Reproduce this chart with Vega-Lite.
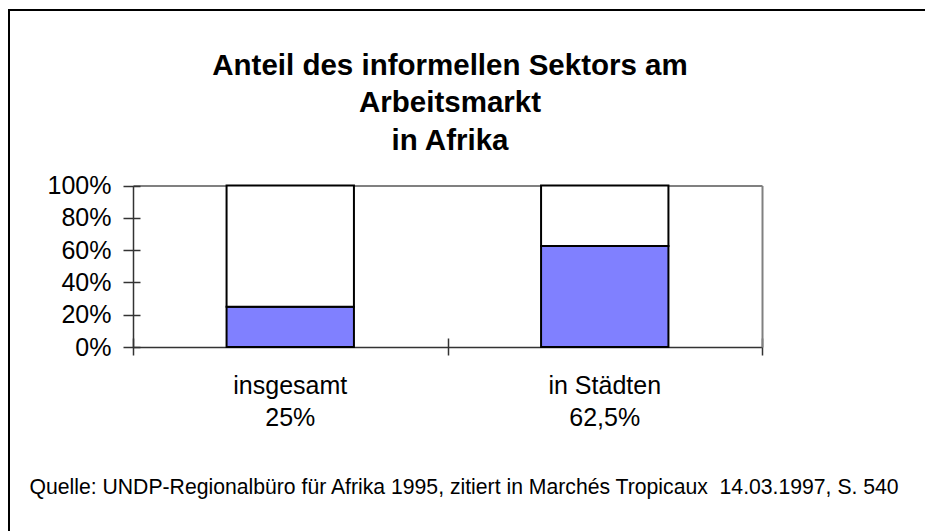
{
  "$schema": "https://vega.github.io/schema/vega-lite/v6.json",
  "width": 921,
  "height": 529,
  "autosize": {"type": "none"},
  "padding": {"left": 9, "top": 10, "right": -5, "bottom": -8},
  "background": "white",
  "title": {
    "text": ["Anteil des informellen Sektors am", "Arbeitsmarkt", "in Afrika"],
    "font": "Liberation Sans",
    "fontSize": 29.5,
    "fontWeight": "bold",
    "color": "black",
    "lineHeight": 37.5,
    "anchor": "middle",
    "frame": "group",
    "baseline": "bottom",
    "orient": "top",
    "offset": -175,
    "dx": -19.5
  },
  "data": {
    "values": [
      {"Kategorie": "insgesamt\n25%", "Sektor": "informell", "Anteil": 0.25},
      {"Kategorie": "insgesamt\n25%", "Sektor": "sonstige", "Anteil": 0.75},
      {"Kategorie": "in Städten\n62,5%", "Sektor": "informell", "Anteil": 0.625},
      {"Kategorie": "in Städten\n62,5%", "Sektor": "sonstige", "Anteil": 0.375}
    ]
  },
  "layer": [
    {
      "mark": {"type": "bar", "opacity": 0},
      "encoding": {
        "x": {
          "field": "Kategorie", "type": "nominal", "sort": null,
          "scale": {"range": [124, 753], "paddingInner": 0.595, "paddingOuter": 0.2975},
          "axis": {"orient": "top", "offset": -175.5, "labels": false, "ticks": false, "title": null,
                   "domainColor": "#808080", "domainWidth": 2, "grid": false}
        },
        "y": {
          "field": "Anteil", "type": "quantitative", "stack": "zero",
          "scale": {"domain": [0, 1], "range": [337, 175.5], "nice": false},
          "axis": {"orient": "right", "offset": -168, "labels": false, "ticks": false, "title": null,
                   "domainColor": "#808080", "domainWidth": 2, "grid": false}
        },
        "order": {"field": "Sektor", "sort": "ascending"}
      }
    },
    {
      "mark": {"type": "point", "opacity": 0},
      "encoding": {
        "x": {
          "field": "Anteil", "type": "quantitative",
          "scale": {"domain": [0, 2], "range": [124, 753], "nice": false, "zero": false},
          "axis": {"orient": "bottom", "offset": -201, "labels": false, "domain": false, "title": null,
                   "values": [0, 1, 2], "tickSize": 17, "tickColor": "#333333", "tickWidth": 1.5, "grid": false}
        },
        "y": {
          "field": "Anteil", "type": "quantitative",
          "scale": {"domain": [0, 1], "range": [337, 175.5], "nice": false},
          "axis": {"orient": "left", "offset": -131, "labels": false, "domain": false, "title": null,
                   "values": [0, 0.2, 0.4, 0.6, 0.8, 1], "tickSize": 17, "tickColor": "#333333", "tickWidth": 1.5, "grid": false}
        }
      }
    },
    {
      "mark": {"type": "bar", "stroke": "black", "strokeWidth": 2},
      "encoding": {
        "x": {
          "field": "Kategorie", "type": "nominal", "sort": null,
          "scale": {"range": [124, 753], "paddingInner": 0.595, "paddingOuter": 0.2975},
          "axis": {
            "orient": "bottom", "offset": -192,
            "labelExpr": "split(datum.label, '\\n')",
            "labelAngle": 0, "labelAlign": "center", "labelBaseline": "top",
            "labelFont": "Liberation Sans", "labelFontSize": 25, "labelColor": "black",
            "labelLineHeight": 32, "labelPadding": 26,
            "ticks": false, "tickSize": 0,
            "domainColor": "#333333", "domainWidth": 1.5, "grid": false,
            "title": "Quelle: UNDP-Regionalbüro für Afrika 1995, zitiert in Marchés Tropicaux \u00a014.03.1997, S. 540",
            "titleFont": "Liberation Sans", "titleFontSize": 21.2, "titleFontWeight": "normal", "titleColor": "black",
            "titleAlign": "left", "titleAnchor": "start", "titleBaseline": "alphabetic",
            "titleX": 20, "titleY": 146
          }
        },
        "y": {
          "field": "Anteil", "type": "quantitative", "stack": "zero",
          "scale": {"domain": [0, 1], "range": [337, 175.5], "nice": false},
          "axis": {
            "orient": "left", "offset": -124, "title": null,
            "values": [0, 0.2, 0.4, 0.6, 0.8, 1], "format": ".0%",
            "labelFont": "Liberation Sans", "labelFontSize": 25, "labelColor": "black",
            "labelPadding": 22, "ticks": false, "tickSize": 0,
            "domainColor": "#333333", "domainWidth": 1.5, "grid": false
          }
        },
        "color": {
          "field": "Sektor", "type": "nominal",
          "scale": {"domain": ["informell", "sonstige"], "range": ["#8080FF", "#FFFFFF"]},
          "legend": null
        },
        "order": {"field": "Sektor", "sort": "ascending"}
      }
    }
  ],
  "resolve": {"scale": {"x": "independent"}, "axis": {"x": "independent", "y": "independent"}},
  "config": {
    "view": {"stroke": "black", "strokeWidth": 2},
    "bar": {"opacity": 1}
  }
}
